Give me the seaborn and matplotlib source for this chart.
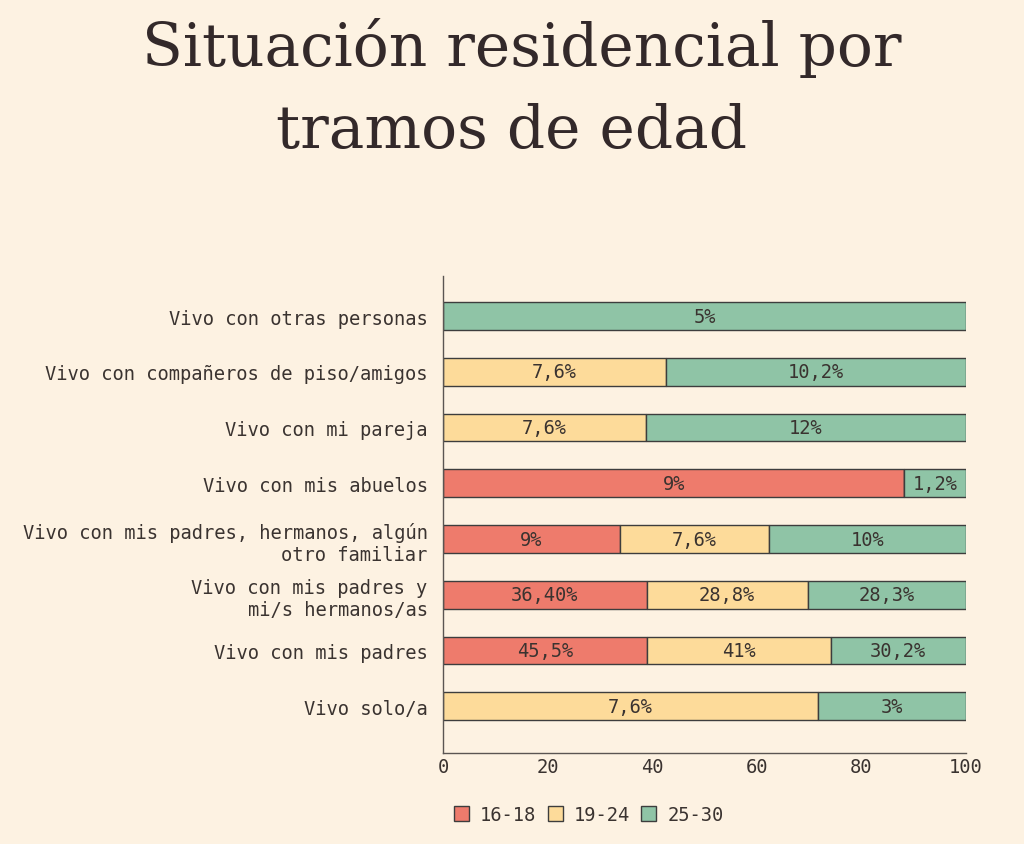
import numpy as np
import seaborn as sns
import matplotlib.pyplot as plt

# categorías (de arriba a abajo) y porcentajes por tramo de edad
categorias = [
    "Vivo con otras personas",
    "Vivo con compañeros de piso/amigos",
    "Vivo con mi pareja",
    "Vivo con mis abuelos",
    "Vivo con mis padres, hermanos, algún\notro familiar",
    "Vivo con mis padres y\nmi/s hermanos/as",
    "Vivo con mis padres",
    "Vivo solo/a",
]
tramos = ["16-18", "19-24", "25-30"]
v_16_18 = [0, 0, 0, 9, 9, 36.4, 45.5, 0]
v_19_24 = [0, 7.6, 7.6, 0, 7.6, 28.8, 41, 7.6]
v_25_30 = [5, 10.2, 12, 1.2, 10, 28.3, 30.2, 3]
etiquetas_16_18 = ["", "", "", "9%", "9%", "36,40%", "45,5%", ""]
etiquetas_19_24 = ["", "7,6%", "7,6%", "", "7,6%", "28,8%", "41%", "7,6%"]
etiquetas_25_30 = ["5%", "10,2%", "12%", "1,2%", "10%", "28,3%", "30,2%", "3%"]

colores = ["#ee7b6c", "#fddb9a", "#8fc4a6"]
fondo = "#fdf2e2"
tinta = "#3a3330"

sns.set_style("white")
plt.rcParams["font.family"] = ["DejaVu Sans Mono"]

valores = np.array([v_16_18, v_19_24, v_25_30], dtype=float)
total = valores.sum(axis=0)
pct = valores / total * 100  # barras normalizadas a 100
etiquetas = [etiquetas_16_18, etiquetas_19_24, etiquetas_25_30]

fig = plt.figure(figsize=(10.24, 8.45), dpi=100, facecolor=fondo)
ax = fig.add_axes([0.4326, 0.1077, 0.5107, 0.5645], facecolor=fondo)

izquierda = np.zeros(len(categorias))
for i, tramo in enumerate(tramos):
    sns.barplot(x=pct[i], y=categorias, orient="h", order=categorias,
                left=izquierda, color=colores[i], width=0.5,
                edgecolor="#3d3d3d", linewidth=1, label=tramo, ax=ax,
                saturation=1)
    for j in range(len(categorias)):
        if etiquetas[i][j]:
            ax.text(izquierda[j] + pct[i][j] / 2, j, etiquetas[i][j],
                    ha="center", va="center", fontsize=13.5, color=tinta)
    izquierda = izquierda + pct[i]

ax.set_xlim(0, 100)
ax.set_ylim(7.84, -0.72)
ax.set_xticks([0, 20, 40, 60, 80, 100])
ax.set_xlabel("")
ax.set_ylabel("")
ax.tick_params(axis="x", labelsize=13.5, colors=tinta, length=4,
               direction="inout", width=0.8, pad=1)
ax.tick_params(axis="y", labelsize=13.5, colors=tinta, length=0, pad=11)
for lab in ax.get_yticklabels():
    lab.set_multialignment("right")
sns.despine(ax=ax)
for s in ["left", "bottom"]:
    ax.spines[s].set_color("#5a5552")
    ax.spines[s].set_linewidth(1)

handles, labels = ax.get_legend_handles_labels()
if ax.get_legend():
    ax.get_legend().remove()
fig.legend(handles, labels, loc="center", bbox_to_anchor=(0.575, 0.035),
           ncol=3, frameon=False, fontsize=13.5, handlelength=0.8,
           handleheight=0.8, handletextpad=0.6, columnspacing=0.6,
           labelcolor=tinta)

titulo = dict(ha="center", va="baseline", fontsize=43, color="#33292a",
              family=["DejaVu Serif"])
fig.text(0.51, 1 - 66 / 845, "Situación residencial por", **titulo)
fig.text(0.5, 1 - 148 / 845, "tramos de edad", **titulo)

fig.savefig("out.png", dpi=100, facecolor=fondo)
